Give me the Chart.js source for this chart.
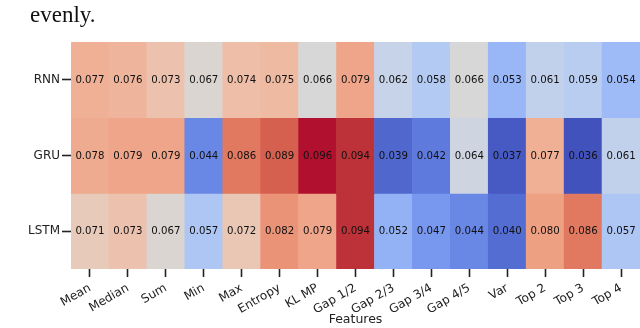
<!DOCTYPE html>
<html>
<head>
<meta charset="utf-8">
<script src="https://cdn.jsdelivr.net/npm/chart.js@4.4.0/dist/chart.umd.min.js"></script>
<style>
  body { margin: 0; background: #fff; }
  #wrap { position: relative; width: 640px; height: 328px; }
  #texto { position: absolute; left: 30px; top: 3px; font-family: "Liberation Serif"; font-size: 23px; line-height: 23px; color: #111; }
</style>
</head>
<body>
<div id="wrap">
  <canvas id="mapa" width="640" height="328"></canvas>
  <div id="texto">evenly.</div>
</div>
<script>
const features = ['Mean', 'Median', 'Sum', 'Min', 'Max', 'Entropy', 'KL MP', 'Gap 1/2', 'Gap 2/3', 'Gap 3/4', 'Gap 4/5', 'Var', 'Top 2', 'Top 3', 'Top 4']
const modelos = ['RNN', 'GRU', 'LSTM']
const rnn = [0.077, 0.076, 0.073, 0.067, 0.074, 0.075, 0.066, 0.079, 0.062, 0.058, 0.066, 0.053, 0.061, 0.059, 0.054]
const gru = [0.078, 0.079, 0.079, 0.044, 0.086, 0.089, 0.096, 0.094, 0.039, 0.042, 0.064, 0.037, 0.077, 0.036, 0.061]
const lstm = [0.071, 0.073, 0.067, 0.057, 0.072, 0.082, 0.079, 0.094, 0.052, 0.047, 0.044, 0.040, 0.080, 0.086, 0.057]
const valores = [rnn, gru, lstm]

// coolwarm (matplotlib)
const coolwarm = [
  [59, 76, 192], [68, 90, 204], [77, 104, 215], [87, 117, 225], [98, 130, 234], [108, 142, 241],
  [119, 154, 247], [130, 165, 251], [141, 176, 254], [152, 185, 255], [163, 194, 255], [174, 201, 253],
  [184, 208, 249], [194, 213, 244], [204, 217, 238], [213, 219, 230], [221, 221, 221], [229, 216, 209],
  [236, 211, 197], [241, 204, 185], [245, 196, 173], [247, 187, 160], [247, 177, 148], [247, 166, 135],
  [244, 154, 123], [241, 141, 111], [236, 127, 99], [229, 112, 88], [222, 96, 77], [213, 80, 66],
  [203, 62, 56], [192, 40, 47], [180, 4, 38]
]

const todos = valores.flat()
const vmin = Math.min(...todos)
const vmax = Math.max(...todos)

function cor(v) {
  let t = (v - vmin) / (vmax - vmin)
  t = Math.max(0, Math.min(1, t)) * (coolwarm.length - 1)
  const i = Math.min(Math.floor(t), coolwarm.length - 2)
  const f = t - i
  const a = coolwarm[i], b = coolwarm[i + 1]
  // leve desaturacao, a figura original e um pouco mais apagada
  const c = a.map((x, k) => Math.round((x + (b[k] - x) * f) * 0.92 + 150 * 0.08))
  return `rgb(${c[0]},${c[1]},${c[2]})`
}

const rotulos = {
  id: 'rotulos',
  afterDatasetsDraw(chart) {
    const c = chart.ctx
    c.save()
    c.font = '10.2px "DejaVu Sans"'
    c.fillStyle = '#111'
    c.textAlign = 'center'
    c.textBaseline = 'middle'
    chart.data.datasets.forEach((ds, r) => {
      chart.getDatasetMeta(r).data.forEach((bar, i) => {
        const p = bar.getCenterPoint()
        c.fillText(valores[r][i].toFixed(3), p.x, p.y + 0.5)
      })
    })
    c.restore()
  }
}

const ctx = document.getElementById('mapa')

new Chart(ctx, {
  type: 'bar',
  data: {
    labels: features,
    datasets: modelos.map((m, r) => ({
      label: m,
      data: features.map(() => [r - 0.5, r + 0.5]),
      backgroundColor: valores[r].map(v => cor(v)),
      borderWidth: 0,
      grouped: false,
      barPercentage: 1,
      categoryPercentage: 1
    }))
  },
  options: {
    responsive: false,
    animation: false,
    layout: { padding: { top: 42, left: 0, right: 0, bottom: 0 } },
    plugins: { legend: { display: false }, tooltip: { enabled: false } },
    scales: {
      x: {
        afterFit: s => { s.height = 59 },
        grid: { offset: false, drawOnChartArea: false, tickLength: 8, tickColor: '#222', tickWidth: 1.6 },
        border: { display: false },
        ticks: {
          minRotation: 30, maxRotation: 30, padding: 4,
          color: '#222', font: { family: 'DejaVu Sans', size: 12 }
        },
        title: {
          display: true, text: 'Features', color: '#222',
          font: { family: 'DejaVu Sans', size: 12.5 },
          padding: { top: 0, bottom: 1 }
        }
      },
      y: {
        min: -0.5, max: 2.5, reverse: true,
        afterFit: s => { s.width = 71 },
        afterBuildTicks: s => { s.ticks = modelos.map((m, i) => ({ value: i })) },
        grid: { drawOnChartArea: false, tickLength: 9, tickColor: '#222', tickWidth: 1.6 },
        border: { display: false },
        ticks: {
          padding: 2, color: '#222',
          font: { family: 'DejaVu Sans', size: 12 },
          callback: v => modelos[v]
        }
      }
    }
  },
  plugins: [rotulos]
})
</script>
</body>
</html>
